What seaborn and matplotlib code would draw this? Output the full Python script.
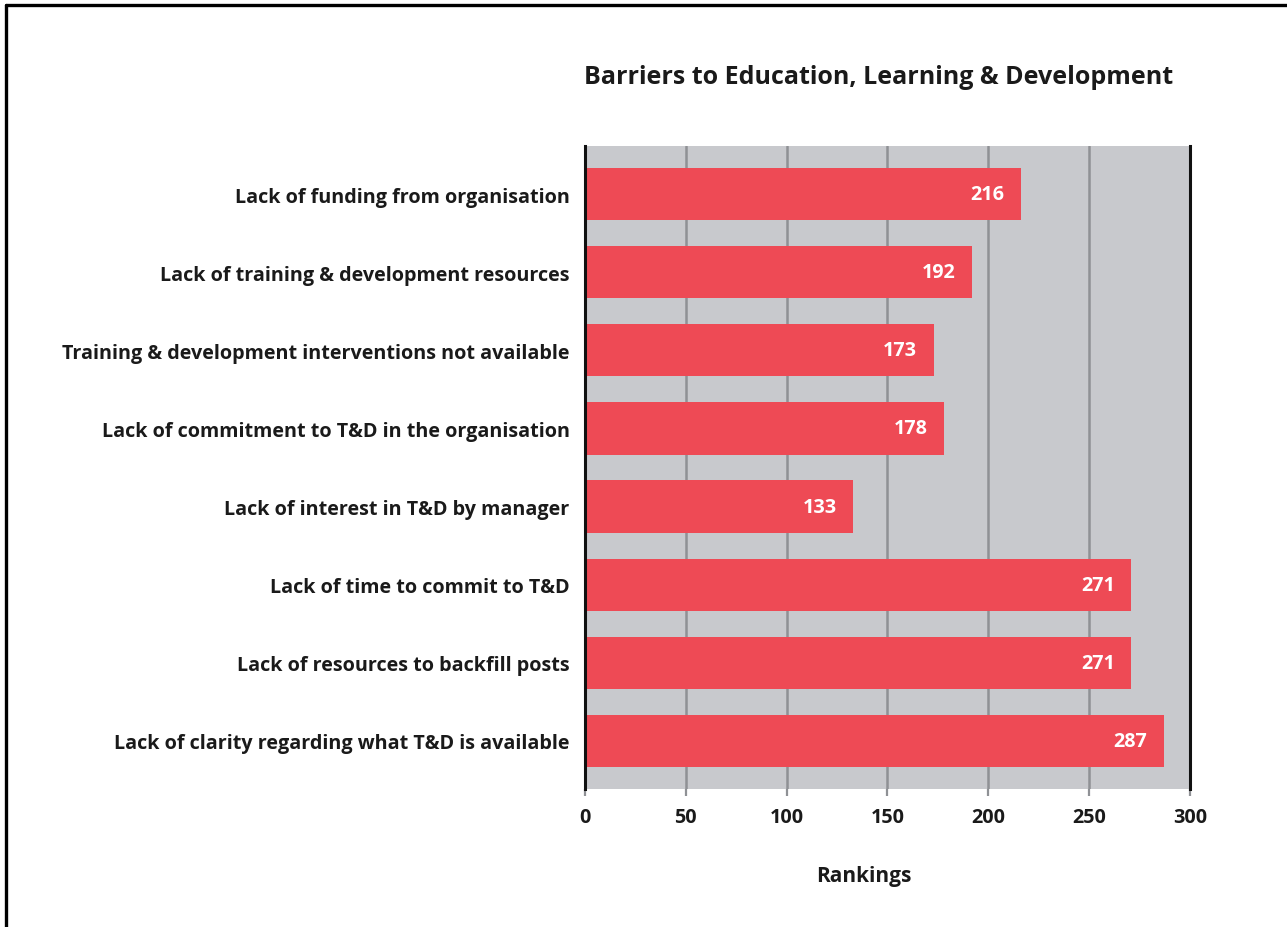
import matplotlib
matplotlib.use("Agg")
import matplotlib.pyplot as plt
from matplotlib.lines import Line2D
import seaborn as sns
import pandas as pd

# Survey results: ranking scores per barrier
barriers = [
    "Lack of funding from organisation",
    "Lack of training & development resources",
    "Training & development interventions not available",
    "Lack of commitment to T&D in the organisation",
    "Lack of interest in T&D by manager",
    "Lack of time to commit to T&D",
    "Lack of resources to backfill posts",
    "Lack of clarity regarding what T&D is available",
]
rankings = [216, 192, 173, 178, 133, 271, 271, 287]
x_ticks = [0, 50, 100, 150, 200, 250, 300]

df = pd.DataFrame({"Barrier": barriers, "Rankings": rankings})

sns.set_theme(style="white")
plt.rcParams["font.family"] = ["Open Sans", "DejaVu Sans"]

BAR = "#EE4A55"
BG = "#C8C9CD"
GRID = "#8F9195"
TEXT = "#1A1A1A"
FS = 14.2

fig = plt.figure(figsize=(12.87, 9.28), dpi=100)
ax = fig.add_axes([0.4545, 0.1487, 0.4701, 0.6929])
ax.set_facecolor(BG)

sns.barplot(data=df, x="Rankings", y="Barrier", orient="h", color=BAR,
            saturation=1, width=0.667, linewidth=0, ax=ax, zorder=3)

ax.set_xlim(0, 300)
ax.set_ylim(len(barriers) - 1 + 0.62, -0.62)
ax.set_xticks(x_ticks)
ax.set_xticklabels([str(t) for t in x_ticks], fontsize=FS,
                   fontweight="bold", color=TEXT)
ax.tick_params(axis="x", length=5, width=1.6, color=GRID, pad=8, bottom=True)
ax.tick_params(axis="y", length=0, pad=11)
for lbl in ax.get_yticklabels():
    lbl.set_fontsize(FS)
    lbl.set_fontweight("bold")
    lbl.set_color(TEXT)

# Vertical grid lines behind the bars
for t in x_ticks[1:-1]:
    ax.axvline(t, color=GRID, lw=1.8, zorder=1)

for side in ("top", "bottom"):
    ax.spines[side].set_visible(False)
for side in ("left", "right"):
    ax.spines[side].set_color("#111111")
    ax.spines[side].set_linewidth(2.2)
    ax.spines[side].set_zorder(4)

# Outer tick marks at 0 and 300 drawn in black like the frame
xt = ax.get_xaxis().get_major_ticks()
for tk in (xt[0], xt[-1]):
    tk.tick1line.set_color("#111111")

# Value labels inside the bar ends
for i, v in enumerate(rankings):
    ax.annotate(str(v), xy=(v, i), xytext=(-12, 0), textcoords="offset points",
                ha="right", va="center", color="white", fontsize=FS,
                fontweight="bold", zorder=5)

ax.set_ylabel("")
ax.set_xlabel("Rankings", fontsize=15, fontweight="bold", color=TEXT)
ax.xaxis.set_label_coords(0.461, -0.118)

fig.text(0.683, 0.917, "Barriers to Education, Learning & Development",
         ha="center", va="center", fontsize=18, fontweight="bold",
         color=TEXT)

# Frame lines along the top and left of the figure
fig.add_artist(Line2D([0.0045, 1.0], [0.9935, 0.9935], color="black", lw=2.4,
                      transform=fig.transFigure))
fig.add_artist(Line2D([0.0045, 0.0045], [0.0, 0.9935], color="black", lw=2.4,
                      transform=fig.transFigure))

fig.savefig("out.png", dpi=100, facecolor="white")
